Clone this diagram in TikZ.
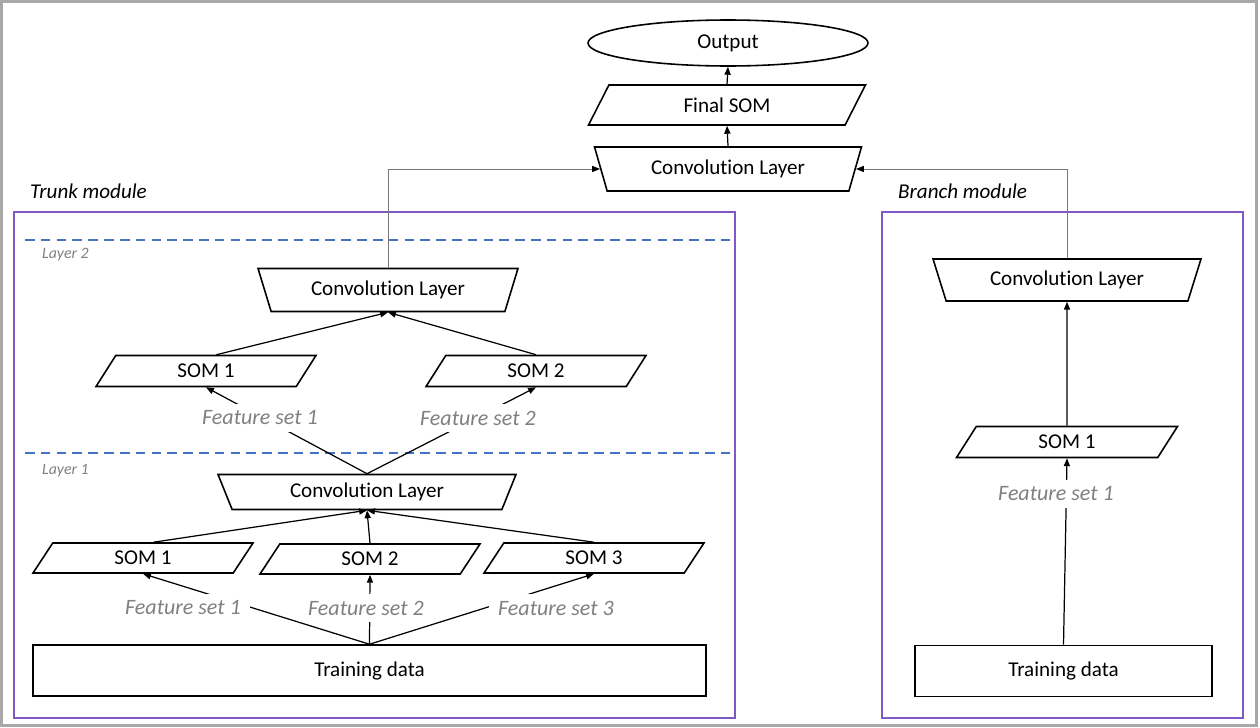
\documentclass[tikz,border=0pt]{standalone}
\usepackage{fontspec}
\setmainfont{Carlito}[Ligatures=NoCommon]
\usetikzlibrary{arrows.meta,shapes.geometric,positioning}
\definecolor{boxpurple}{RGB}{128,88,196}
\definecolor{layerblue}{RGB}{68,114,196}
\definecolor{labelgray}{RGB}{128,128,128}
\definecolor{linegray}{RGB}{120,120,120}
\definecolor{framegray}{RGB}{168,168,168}
\tikzset{
	txt/.style={font=\fontsize{12}{14}\selectfont},
	som/.style={trapezium, draw, line width=0.9pt, txt, inner sep=0pt,
		trapezium left angle=35, trapezium right angle=145, trapezium stretches body,
		minimum width=4.4cm, minimum height=0.62cm},
	conv/.style={trapezium, draw, line width=0.9pt, txt, inner sep=0pt,
		trapezium left angle=126, trapezium right angle=126, trapezium stretches body,
		minimum width=5.3cm, minimum height=0.86cm},
	databox/.style={rectangle, draw, line width=0.9pt, txt, minimum height=1.02cm},
	feat/.style={fill=white, text=labelgray, inner xsep=5pt, inner ysep=4pt,
		font=\fontsize{12.5}{14}\selectfont\itshape},
	arr/.style={-{Triangle[length=4.5pt,width=3.5pt]}, line width=0.7pt},
	grayarr/.style={-{Triangle[length=4.5pt,width=3.5pt,color=black]}, linegray, line width=0.5pt},
	module/.style={draw=boxpurple, line width=0.8pt},
	layerline/.style={layerblue, dash pattern=on 5.5pt off 3.5pt, line width=0.8pt},
	modlabel/.style={anchor=west, font=\fontsize{12}{14}\selectfont\itshape},
	layerlabel/.style={anchor=west, text=labelgray, font=\fontsize{9}{11}\selectfont\itshape}
}

\begin{document}
\begin{tikzpicture}[x=0.02cm,y=-0.02cm]
	\useasboundingbox (0,0) rectangle (1260,727);
	\draw[framegray, line width=1.7pt] (1.5,1.5) rectangle (1256.5,725);

	\draw[module] (14,212) rectangle (735,718);
	\draw[module] (882,212) rectangle (1243,718);
	\node[modlabel] (trunk) at (24,191) {Trunk module};
	\node[modlabel] (branch) at (892,191) {Branch module};
	\draw[layerline] (25,240) -- (735,240);
	\draw[layerline] (25,453) -- (735,453);
	\node[layerlabel] (lay2) at (36,255) {Layer 2};
	\node[layerlabel] (lay1) at (36,471) {Layer 1};

	\node[ellipse, draw, line width=0.9pt, txt, inner sep=0pt, minimum width=5.6cm, minimum height=0.92cm] (out) at (728,43) {Output};
	\node[som, minimum width=5.54cm, minimum height=0.8cm, trapezium left angle=36, trapezium right angle=144] (fsom) at (727,105) {Final SOM};
	\node[conv, minimum width=5.34cm, minimum height=0.88cm, trapezium left angle=125, trapezium right angle=125] (convT) at (728,169) {Convolution Layer};

	\node[conv, minimum width=5.2cm] (conv2) at (388,290) {Convolution Layer};
	\node[som] (som21) at (206,371) {SOM 1};
	\node[som] (som22) at (536,371) {SOM 2};

	\node[conv, minimum width=5.96cm, minimum height=0.7cm, trapezium left angle=128, trapezium right angle=128] (conv1) at (367,492) {Convolution Layer};
	\node[som, minimum height=0.6cm] (som11) at (143,558) {SOM 1};
	\node[som, minimum height=0.6cm] (som12) at (370,559) {SOM 2};
	\node[som, minimum height=0.6cm] (som13) at (594,558) {SOM 3};
	\node[databox, minimum width=13.46cm] (td1) at (369.5,670.5) {Training data};

	\node[conv, minimum width=5.36cm, minimum height=0.84cm] (convB) at (1067,280) {Convolution Layer};
	\node[som, minimum width=4.42cm] (somB) at (1067,442) {SOM 1};
	\node[databox, minimum width=5.94cm] (tdB) at (1063.5,671) {Training data};

	\draw[arr] (fsom.north) -- (out.south);
	\draw[arr] (convT.north) -- (fsom.south);
	\draw[grayarr] (conv2.north) |- (convT.left side);
	\draw[grayarr] (convB.north) |- (convT.right side);

	\draw[arr] (som21.top side) -- (conv2.south);
	\draw[arr] (som22.north) -- (conv2.south);
	\draw[arr] (conv1.north) -- (som21.south);
	\draw[arr] (conv1.north) -- (som22.south);

	\draw[arr] (som11.top side) -- (conv1.south);
	\draw[arr] (som12.north) -- (conv1.south);
	\draw[arr] (som13.north) -- (conv1.south);
	\draw[arr] (td1.north) -- (som11.south);
	\draw[arr] (td1.north) -- (som12.south);
	\draw[arr] (td1.north) -- (som13.south);

	\draw[arr] (somB.north) -- (convB.south);
	\draw[arr] (tdB.north) -- (somB.south);

	\node[feat] (fs21) at (260,418) {Feature set 1};
	\node[feat] (fs22) at (478,418) {Feature set 2};
	\node[feat] (fs11) at (183,608) {Feature set 1};
	\node[feat] (fs12) at (366,608) {Feature set 2};
	\node[feat] (fs13) at (556,608) {Feature set 3};
	\node[feat] (fsB) at (1056,494) {Feature set 1};
\end{tikzpicture}
\end{document}
